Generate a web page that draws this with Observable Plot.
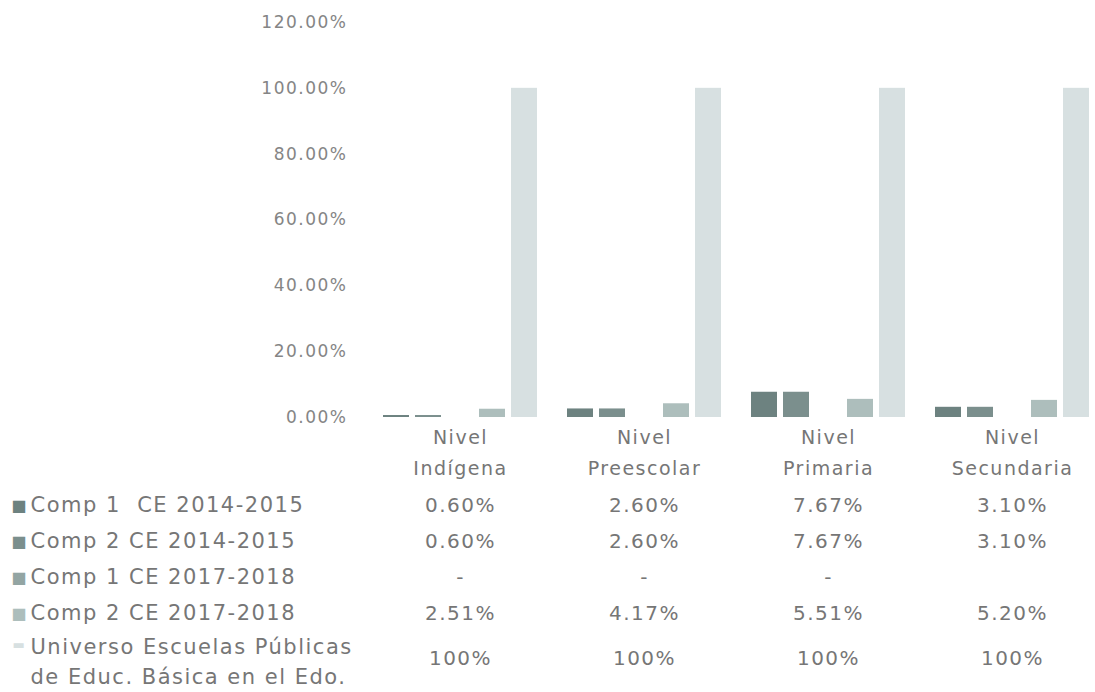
<!DOCTYPE html>
<html>
<head>
<meta charset="utf-8">
<script src="https://cdn.jsdelivr.net/npm/d3@7"></script>
<script src="https://cdn.jsdelivr.net/npm/@observablehq/plot@0.6"></script>
<style>
  html, body { margin: 0; padding: 0; background: #fff; overflow: hidden; width: 1095px; height: 692px; }
  #chart { width: 1095px; height: 692px; overflow: hidden; }
  #chart svg { display: block; max-width: none !important; }
  #chart svg text { letter-spacing: 1.5px; }
</style>
</head>
<body>
<div id="chart"></div>
<script>
const categories = ["Nivel\nIndígena", "Nivel\nPreescolar", "Nivel\nPrimaria", "Nivel\nSecundaria"];
const seriesNames = [
  "Comp 1  CE 2014-2015",
  "Comp 2 CE 2014-2015",
  "Comp 1 CE 2017-2018",
  "Comp 2 CE 2017-2018",
  "Universo Escuelas Públicas\nde Educ. Básica en el Edo."
];
const comp1_2014 = [0.006, 0.026, 0.0767, 0.031];
const comp2_2014 = [0.006, 0.026, 0.0767, 0.031];
const comp1_2017 = [null, null, null, null];
const comp1_2017Labels = ["-", "-", "-", ""];
const comp2_2017 = [0.0251, 0.0417, 0.0551, 0.052];
const universo = [1, 1, 1, 1];
const yTicks = [0, 0.2, 0.4, 0.6, 0.8, 1.0, 1.2];
const colors = ["#6d8280", "#7b8f8d", "#93a5a3", "#adbebc", "#d7e0e1"];

const seriesValues = [comp1_2014, comp2_2014, comp1_2017, comp2_2017, universo];

const bars = [];
const cells = [];
seriesValues.forEach((vals, si) => {
  vals.forEach((v, ci) => {
    if (v != null) bars.push({category: categories[ci], series: seriesNames[si], value: v});
    let label;
    if (v == null) label = comp1_2017Labels[ci];
    else if (si === 4) label = d3.format(".0%")(v);
    else label = d3.format(".2%")(v);
    cells.push({category: categories[ci], series: seriesNames[si], label, last: si === 4});
  });
});

const font = "'DejaVu Sans', sans-serif";
const textColor = "#767676";

const W = 1120, ML = 368, MR = 16;

const chart = Plot.plot({
  width: W, height: 485,
  marginTop: 22, marginBottom: 68, marginLeft: ML, marginRight: MR,
  style: {fontFamily: font, color: textColor, background: "transparent"},
  fx: {domain: categories, padding: 0, label: null},
  x: {domain: seriesNames, axis: null, paddingInner: 0.18, paddingOuter: 0.378},
  y: {domain: [0, 1.2], label: null},
  color: {domain: seriesNames, range: colors},
  marks: [
    Plot.barY(bars, {fx: "category", x: "series", y: "value", fill: "series"}),
    Plot.axisY({ticks: yTicks, tickFormat: d3.format(".2%"), tickSize: 0, tickPadding: 21, label: null, fontSize: 17, fill: "#858585"}),
    Plot.axisFx({anchor: "bottom", tickSize: 0, tickPadding: 5, label: null, fontSize: 19, lineHeight: 1.63, fill: textColor})
  ]
});

const table = Plot.plot({
  width: W, height: 207,
  marginTop: 20, marginBottom: 43, marginLeft: ML, marginRight: MR,
  style: {fontFamily: font, color: textColor, background: "transparent"},
  x: {domain: categories, type: "band", axis: null, padding: 0},
  y: {domain: seriesNames, type: "point", padding: 0, axis: null},
  color: {domain: seriesNames, range: colors},
  marks: [
    Plot.text(cells.filter(d => !d.last), {x: "category", y: "series", text: "label", fontSize: 20, fill: textColor}),
    Plot.text(cells.filter(d => d.last), {x: "category", y: "series", text: "label", fontSize: 20, fill: textColor, dy: 9}),
    Plot.text(seriesNames.slice(0, 4), {y: d => d, text: d => d, frameAnchor: "left", textAnchor: "start", dx: -338, fontSize: 21, fill: textColor}),
    Plot.text(seriesNames.slice(4), {y: d => d, text: d => d, frameAnchor: "left", textAnchor: "start", dx: -338, fontSize: 21, fill: textColor, lineHeight: 1.45, dy: 10}),
    Plot.text(seriesNames.slice(0, 4), {y: d => d, text: () => "■", frameAnchor: "left", textAnchor: "middle", dx: -349, fontSize: 16, fill: d => d}),
    Plot.text(seriesNames.slice(4), {y: d => d, text: () => "▬", frameAnchor: "left", textAnchor: "middle", dx: -349, fontSize: 13, fill: d => d, dy: -5})
  ]
});

document.getElementById("chart").append(chart, table);
</script>
</body>
</html>
